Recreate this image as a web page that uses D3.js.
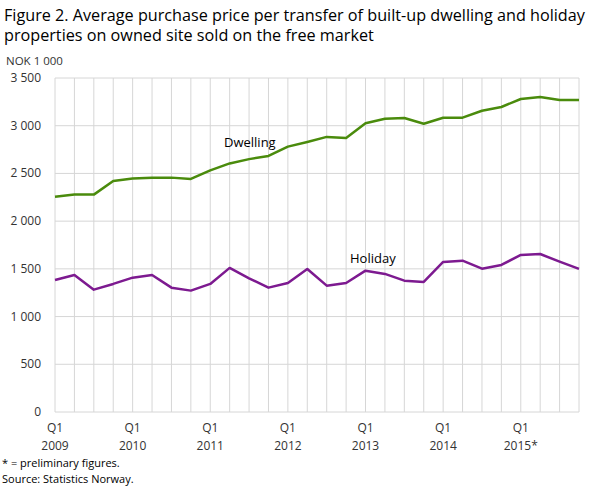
<!DOCTYPE html>
<html><head><meta charset="utf-8">
<script src="https://cdn.jsdelivr.net/npm/d3@7"></script>
<style>
body{margin:0;background:#fff;}
svg text{font-family:"Open Sans",sans-serif;}
</style></head>
<body><svg id="c" width="609" height="489"></svg>
<script>
const quarters = ["2009Q1","2009Q2","2009Q3","2009Q4","2010Q1","2010Q2","2010Q3","2010Q4",
"2011Q1","2011Q2","2011Q3","2011Q4","2012Q1","2012Q2","2012Q3","2012Q4",
"2013Q1","2013Q2","2013Q3","2013Q4","2014Q1","2014Q2","2014Q3","2014Q4",
"2015Q1","2015Q2","2015Q3","2015Q4"];
const dwelling = [2255,2278,2278,2421,2446,2456,2456,2442,2532,2605,2650,2683,2781,2830,2883,2872,3026,3072,3081,3021,3084,3084,3157,3196,3280,3301,3269,3269];
const holiday = [1384,1436,1282,1342,1408,1436,1303,1272,1342,1510,1401,1303,1352,1499,1324,1352,1481,1447,1376,1363,1572,1586,1502,1541,1646,1656,1575,1499];
const yTicks = [0,500,1000,1500,2000,2500,3000,3500];
const yearLabels = ["2009","2010","2011","2012","2013","2014","2015*"];

const svg = d3.select("#c");
const x = d3.scalePoint().domain(quarters).range([55,579]);
const y = d3.scaleLinear().domain([0,3500]).range([412,78]);
const fmt = v => d3.format(",")(v).replace(/,/g," ");

// title
const t = svg.append("text").attr("x",4).attr("fill","#000").style("font-size","16.2px");
t.append("tspan").attr("x",4).attr("y",21).text("Figure 2. Average purchase price per transfer of built-up dwelling and holiday");
t.append("tspan").attr("x",4).attr("y",41).text("properties on owned site sold on the free market");

svg.append("text").attr("x",6).attr("y",65).attr("fill","#333").style("font-size","11.5px").text("NOK 1 000");

// gridlines
svg.append("g").selectAll("line").data(quarters).join("line")
  .attr("x1",d=>x(d)).attr("x2",d=>x(d)).attr("y1",y(3500)).attr("y2",y(0))
  .attr("stroke","#d6d6d6").attr("stroke-width",1);
svg.append("g").selectAll("line").data(yTicks).join("line")
  .attr("x1",55).attr("x2",579).attr("y1",d=>y(d)).attr("y2",d=>y(d))
  .attr("stroke","#d6d6d6").attr("stroke-width",1);

// y labels
svg.append("g").selectAll("text").data(yTicks).join("text")
  .attr("x",41).attr("y",d=>y(d)+4).attr("text-anchor","end")
  .attr("fill","#333").style("font-size","12px").text(fmt);

// x labels
const q1 = quarters.filter(q=>q.endsWith("Q1"));
svg.append("g").selectAll("text").data(q1).join("text")
  .attr("x",d=>x(d)).attr("y",432).attr("text-anchor","middle")
  .attr("fill","#333").style("font-size","12px").text("Q1");
svg.append("g").selectAll("text").data(q1).join("text")
  .attr("x",d=>x(d)).attr("y",450).attr("text-anchor","middle")
  .attr("fill","#333").style("font-size","12px").text((d,i)=>yearLabels[i]);

const line = d3.line().x((d,i)=>x(quarters[i])).y(d=>y(d));
svg.append("path").datum(dwelling).attr("d",line).attr("fill","none")
  .attr("stroke","#4a8b0c").attr("stroke-width",2.5).attr("stroke-linejoin","round");
svg.append("path").datum(holiday).attr("d",line).attr("fill","none")
  .attr("stroke","#7d1a90").attr("stroke-width",2.5).attr("stroke-linejoin","round");

svg.append("text").attr("x",224).attr("y",147).attr("fill","#000").style("font-size","13px").text("Dwelling");
svg.append("text").attr("x",350).attr("y",263).attr("fill","#000").style("font-size","13px").text("Holiday");

svg.append("text").attr("x",2).attr("y",467).attr("fill","#000").style("font-size","11px").text("* = preliminary figures.");
svg.append("text").attr("x",2).attr("y",483).attr("fill","#000").style("font-size","11px").text("Source: Statistics Norway.");
</script></body></html>
